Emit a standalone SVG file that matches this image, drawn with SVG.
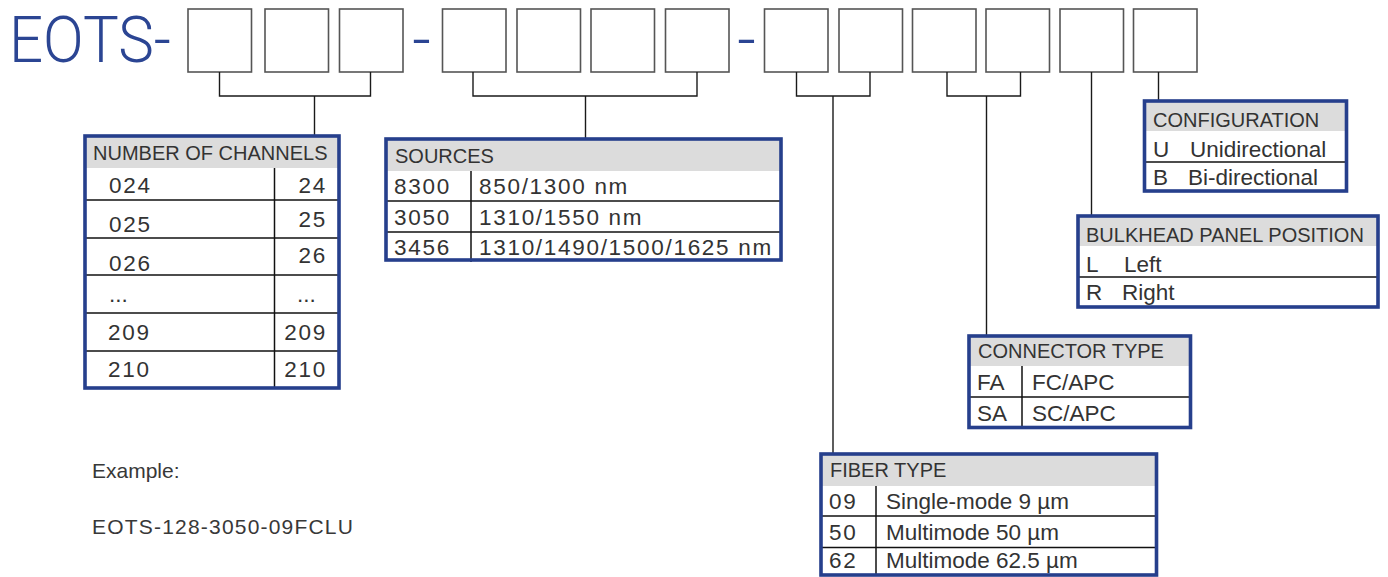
<svg xmlns="http://www.w3.org/2000/svg" width="1388" height="577" viewBox="0 0 1388 577">
<style>
.bg{fill:#ffffff}
.slot{fill:#ffffff;stroke:#555555;stroke-width:1.6}
.conn{fill:none;stroke:#1a1a1a;stroke-width:1.4}
.tbl{fill:none;stroke:#263f8c;stroke-width:3.6}
.cell{fill:#ffffff}
.hdr{fill:#dcdcdc}
.rule{stroke:#111111;stroke-width:1.5}
.title{font-family:Roboto,"Liberation Sans",sans-serif;font-weight:300;font-size:65px;fill:#2b4593}
.h{font-family:"Liberation Sans",Arial,sans-serif;font-size:20px;fill:#333333}
.t{font-family:"Liberation Sans",Arial,sans-serif;font-size:22.5px;fill:#333333}
.n{letter-spacing:1.7px}
.ex{font-family:"Liberation Sans",Arial,sans-serif;font-size:21px;fill:#383838}
</style>
<rect class="bg" x="0" y="0" width="1388" height="577"/>

<g id="title">
<text class="title" x="9" y="62" textLength="162" lengthAdjust="spacingAndGlyphs">EOTS-</text>
<text class="title" x="421.5" y="62" text-anchor="middle">-</text>
<text class="title" x="746.5" y="62" text-anchor="middle">-</text>
</g>

<g id="slots">
<rect class="slot" x="188" y="9" width="63.5" height="63"/>
<rect class="slot" x="265" y="9" width="63.5" height="63"/>
<rect class="slot" x="339.5" y="9" width="63.5" height="63"/>
<rect class="slot" x="442.5" y="9" width="63.5" height="63"/>
<rect class="slot" x="517" y="9" width="63.5" height="63"/>
<rect class="slot" x="591" y="9" width="63.5" height="63"/>
<rect class="slot" x="665.5" y="9" width="63.5" height="63"/>
<rect class="slot" x="764.5" y="9" width="63.5" height="63"/>
<rect class="slot" x="839" y="9" width="63.5" height="63"/>
<rect class="slot" x="912.5" y="9" width="63.5" height="63"/>
<rect class="slot" x="986" y="9" width="63.5" height="63"/>
<rect class="slot" x="1060" y="9" width="63.5" height="63"/>
<rect class="slot" x="1133.5" y="9" width="63.5" height="63"/>
</g>

<g id="connectors">
<path class="conn" d="M219.5,72 V96 H370.5 V72 M314.5,96 V136"/>
<path class="conn" d="M473,72 V96 H697 V72 M585.5,96 V139"/>
<path class="conn" d="M796.5,72 V96 H870 V72 M833,96 V454"/>
<path class="conn" d="M947,72 V96 H1020.5 V72 M986.5,96 V336"/>
<path class="conn" d="M1091.5,72 V216"/>
<path class="conn" d="M1158.5,72 V101"/>
</g>

<g id="channels">
<rect class="cell" x="85" y="136" width="254" height="252"/>
<rect class="hdr" x="85" y="136" width="254" height="32"/>
<line class="rule" x1="85" y1="200" x2="339" y2="200"/>
<line class="rule" x1="85" y1="238" x2="339" y2="238"/>
<line class="rule" x1="85" y1="275" x2="339" y2="275"/>
<line class="rule" x1="85" y1="313" x2="339" y2="313"/>
<line class="rule" x1="85" y1="351" x2="339" y2="351"/>
<line class="rule" x1="274.5" y1="168" x2="274.5" y2="388"/>
<text class="h" x="93" y="160">NUMBER OF CHANNELS</text>
<text class="t n" x="109" y="193">024</text>
<text class="t n" x="327" y="193" text-anchor="end">24</text>
<text class="t n" x="109" y="232">025</text>
<text class="t n" x="327" y="227" text-anchor="end">25</text>
<text class="t n" x="109" y="271">026</text>
<text class="t n" x="327" y="263" text-anchor="end">26</text>
<text class="t" x="109" y="302" font-size="15">...</text>
<text class="t" x="297" y="302" font-size="15">...</text>
<text class="t n" x="108" y="340">209</text>
<text class="t n" x="327" y="340" text-anchor="end">209</text>
<text class="t n" x="108" y="377">210</text>
<text class="t n" x="327" y="377" text-anchor="end">210</text>
<rect class="tbl" x="85" y="136" width="254" height="252"/>
</g>

<g id="sources">
<rect class="cell" x="386" y="139" width="395" height="121"/>
<rect class="hdr" x="386" y="139" width="395" height="32"/>
<line class="rule" x1="386" y1="201" x2="781" y2="201"/>
<line class="rule" x1="386" y1="232" x2="781" y2="232"/>
<line class="rule" x1="471" y1="171" x2="471" y2="262"/>
<text class="h" x="395" y="163">SOURCES</text>
<text class="t n" x="394" y="194">8300</text>
<text class="t n" x="479" y="194">850/1300 nm</text>
<text class="t n" x="394" y="225">3050</text>
<text class="t n" x="479" y="225">1310/1550 nm</text>
<text class="t n" x="394" y="255">3456</text>
<text class="t n" x="479" y="255">1310/1490/1500/1625 nm</text>
<rect class="tbl" x="386" y="139" width="395" height="121"/>
</g>

<g id="configuration">
<rect class="cell" x="1144.5" y="101" width="202" height="90"/>
<rect class="hdr" x="1144.5" y="101" width="202" height="30"/>
<line class="rule" x1="1144.5" y1="162" x2="1346.5" y2="162"/>
<text class="h" x="1153" y="127">CONFIGURATION</text>
<text class="t" x="1153" y="157">U</text>
<text class="t" x="1190" y="157">Unidirectional</text>
<text class="t" x="1153" y="185">B</text>
<text class="t" x="1188" y="185">Bi-directional</text>
<rect class="tbl" x="1144.5" y="101" width="202" height="90"/>
</g>

<g id="bulkhead">
<rect class="cell" x="1078" y="216" width="300" height="91"/>
<rect class="hdr" x="1078" y="216" width="300" height="30"/>
<line class="rule" x1="1078" y1="277" x2="1378" y2="277"/>
<text class="h" x="1086" y="242" font-size="20.8">BULKHEAD PANEL POSITION</text>
<text class="t" x="1086" y="272">L</text>
<text class="t" x="1124" y="272">Left</text>
<text class="t" x="1086" y="300">R</text>
<text class="t" x="1122" y="300">Right</text>
<rect class="tbl" x="1078" y="216" width="300" height="91"/>
</g>

<g id="connector-type">
<rect class="cell" x="969" y="336" width="221.5" height="91.5"/>
<rect class="hdr" x="969" y="336" width="221.5" height="30"/>
<line class="rule" x1="969" y1="397" x2="1190.5" y2="397"/>
<line class="rule" x1="1022" y1="366" x2="1022" y2="427.5"/>
<text class="h" x="978" y="358">CONNECTOR TYPE</text>
<text class="t" x="977" y="390">FA</text>
<text class="t" x="1032" y="390">FC/APC</text>
<text class="t" x="977" y="421">SA</text>
<text class="t" x="1032" y="421">SC/APC</text>
<rect class="tbl" x="969" y="336" width="221.5" height="91.5"/>
</g>

<g id="fiber-type">
<rect class="cell" x="821" y="454" width="335.5" height="121"/>
<rect class="hdr" x="821" y="454" width="335.5" height="32"/>
<line class="rule" x1="821" y1="516" x2="1156.5" y2="516"/>
<line class="rule" x1="821" y1="547.5" x2="1156.5" y2="547.5"/>
<line class="rule" x1="876" y1="486" x2="876" y2="575"/>
<text class="h" x="830" y="477">FIBER TYPE</text>
<text class="t n" x="829" y="509">09</text>
<text class="t" x="886" y="509">Single-mode 9 µm</text>
<text class="t n" x="829" y="540">50</text>
<text class="t" x="886" y="540">Multimode 50 µm</text>
<text class="t n" x="829" y="568">62</text>
<text class="t" x="886" y="568">Multimode 62.5 µm</text>
<rect class="tbl" x="821" y="454" width="335.5" height="121"/>
</g>

<g id="example">
<text class="ex" x="92" y="478">Example:</text>
<text class="ex" x="92" y="534" letter-spacing="1.2">EOTS-128-3050-09FCLU</text>
</g>
</svg>
